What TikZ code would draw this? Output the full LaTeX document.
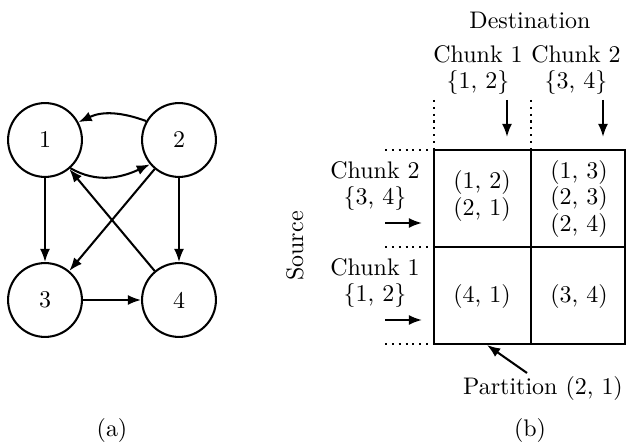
\documentclass[tikz,border=0pt]{standalone}
\usetikzlibrary{arrows.meta}
\begin{document}
\begin{tikzpicture}[x=0.417pt,y=-0.417pt,
  vertex/.style={circle,draw,line width=0.85pt,minimum size=30.8pt,inner sep=0pt},
  edge/.style={line width=0.85pt,-{Latex[length=5.5pt,width=4.2pt]}},
  grid/.style={line width=0.95pt},
  guide/.style={line width=0.85pt,dotted},
  lbl/.style={inner sep=0pt,align=center}]
\useasboundingbox (0,0) rectangle (626,443);

% (a) directed graph
\node[vertex] (n1) at (45,140) {1};
\node[vertex] (n2) at (179,140) {2};
\node[vertex] (n3) at (45,300) {3};
\node[vertex] (n4) at (179,300) {4};
\draw[edge] (n2.150) to[out=160,in=25] (n1.28);
\draw[edge] (n1.-48) to[out=-30,in=-155] (n2.-140);
\draw[edge] (n1) -- (n3);
\draw[edge] (n2) -- (n4);
\draw[edge] (n3) -- (n4);
\draw[edge] (n2) -- (n3);
\draw[edge] (n4) -- (n1);
\node[lbl] (capa) at (112,431) {(a)};

% (b) partition grid
\coordinate (g00) at (434,150);
\coordinate (g10) at (531,150);
\coordinate (g20) at (625,150);
\coordinate (g01) at (434,247);
\coordinate (g21) at (625,247);
\coordinate (g02) at (434,344);
\coordinate (g12) at (531,344);
\coordinate (g22) at (625,344);
\draw[grid] (g00) rectangle (g22);
\draw[grid] (g01) -- (g21);
\draw[grid] (g10) -- (g12);

% dotted guides
\coordinate (dv1) at (434,100);
\coordinate (dv2) at (531,100);
\coordinate (dh0) at (385,150);
\coordinate (dh1) at (385,247);
\coordinate (dh2) at (385,344);
\draw[guide] (dv1) -- (g00);
\draw[guide] (dv2) -- (g10);
\draw[guide] (dh0) -- (g00);
\draw[guide] (dh1) -- (g01);
\draw[guide] (dh2) -- (g02);

% streaming arrows
\coordinate (ad1s) at (507,100);
\coordinate (ad1e) at (507,137);
\coordinate (ad2s) at (603,100);
\coordinate (ad2e) at (603,137);
\coordinate (ar1s) at (385,223);
\coordinate (ar1e) at (422,223);
\coordinate (ar2s) at (385,320);
\coordinate (ar2e) at (422,320);
\draw[edge] (ad1s) -- (ad1e);
\draw[edge] (ad2s) -- (ad2e);
\draw[edge] (ar1s) -- (ar1e);
\draw[edge] (ar2s) -- (ar2e);

% headers
\node[lbl] (dest) at (530,20) {Destination};
\node[lbl] (dc1) at (478,70) {Chunk 1\\[-1pt]\{1, 2\}};
\node[lbl] (dc2) at (576,70) {Chunk 2\\[-1pt]\{3, 4\}};
\node[lbl] (sc2) at (375,186) {Chunk 2\\[-1pt]\{3, 4\}};
\node[lbl] (sc1) at (375,283) {Chunk 1\\[-1pt]\{1, 2\}};
\node[lbl,rotate=90] (src) at (295,246) {Source};

% cell contents
\node[lbl] (c11) at (482,196) {(1, 2)\\[-1pt](2, 1)};
\node[lbl] (c12) at (579,199) {(1, 3)\\[-1pt](2, 3)\\[-1pt](2, 4)};
\node[lbl] (c21) at (482,297) {(4, 1)};
\node[lbl] (c22) at (579,297) {(3, 4)};

% partition callout
\node[lbl] (part) at (543,389) {Partition (2, 1)};
\coordinate (pcs) at (527,373);
\coordinate (pt) at (487,345);
\draw[edge] (pcs) -- (pt);
\node[lbl] (capb) at (530,431) {(b)};
\end{tikzpicture}
\end{document}
